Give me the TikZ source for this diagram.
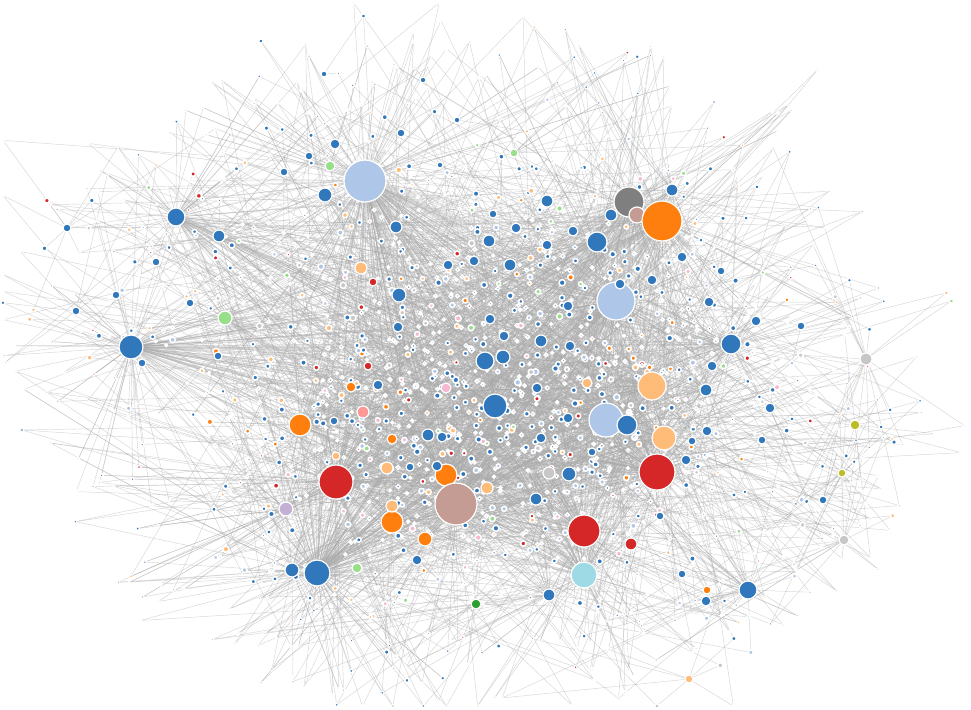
\documentclass[tikz,border=0pt]{standalone}
\definecolor{cb}{RGB}{49,119,187}
\definecolor{clb}{RGB}{174,199,232}
\definecolor{cor}{RGB}{255,127,14}
\definecolor{clo}{RGB}{255,187,120}
\definecolor{cre}{RGB}{214,39,40}
\definecolor{clr}{RGB}{255,152,150}
\definecolor{cgr}{RGB}{44,160,44}
\definecolor{clg}{RGB}{152,223,138}
\definecolor{cbr}{RGB}{196,156,148}
\definecolor{cgy}{RGB}{127,127,127}
\definecolor{clgy}{RGB}{199,199,199}
\definecolor{col}{RGB}{188,189,34}
\definecolor{clol}{RGB}{219,219,141}
\definecolor{cpu}{RGB}{197,176,213}
\definecolor{cpk}{RGB}{247,182,210}
\definecolor{ccy}{RGB}{158,218,229}
\colorlet{pal0}{cb}\colorlet{pal1}{cb}\colorlet{pal2}{cb}\colorlet{pal3}{cb}
\colorlet{pal4}{cb}\colorlet{pal5}{cb}\colorlet{pal6}{cb}\colorlet{pal7}{cb}
\colorlet{pal8}{cb}\colorlet{pal9}{clb}\colorlet{pal10}{clb}\colorlet{pal11}{clo}
\colorlet{pal12}{clo}\colorlet{pal13}{clg}\colorlet{pal14}{cor}\colorlet{pal15}{cre}
\colorlet{pal16}{clb}\colorlet{pal17}{cpk}\colorlet{pal18}{clgy}\colorlet{pal19}{cb}
\tikzset{
  vtx/.style={circle,inner sep=0pt,draw=white,line width=1.2pt},
  dot/.style={circle,inner sep=0pt,draw=white,line width=1.5pt},
  lnk/.style={draw=black!33,line width=0.45pt,opacity=0.48},
}
\def\hublist{365/181/21/clb/50/200, 616/301/19/clb/40/190, 606/420/17/clb/30/180,
584/575/13/ccy/22/140, 629/202/15/cgy/22/170, 637/215/8/cbr/8/120, 662/221/20/cor/35/190,
300/425/11/cor/18/140, 446/475/11/cor/14/120, 392/522/11/cor/14/120, 425/539/7/cor/8/100,
652/386/14/clo/16/140, 664/438/12/clo/14/140, 336/482/17/cre/30/190, 657/472/18/cre/28/190,
584/531/16/cre/22/170, 456/504/21/cbr/35/210, 131/347/12/cb/35/150, 317/573/13/cb/35/170,
495/406/12/cb/22/150, 176/217/9/cb/18/140, 731/344/10/cb/18/140, 748/590/9/cb/14/120,
597/242/10/cb/14/120, 627/425/10/cb/10/110, 485/361/9/cb/10/110, 503/357/7/cb/6/100,
292/570/7/cb/6/100, 325/195/7/cb/8/100, 219/236/6/cb/6/100, 399/295/7/cb/8/100,
396/227/6/cb/6/100, 569/474/7/cb/6/100, 549/595/6/cb/5/100, 536/499/6/cb/5/100,
541/341/6/cb/5/100, 672/190/6/cb/5/100, 706/390/6/cb/5/100, 709/302/5/cb/4/100,
770/408/5/cb/4/100, 225/318/7/clg/12/120, 866/359/6/clgy/12/110, 855/425/5/col/12/110,
842/473/4/col/10/110, 844/540/5/clgy/10/110, 286/509/7/cpu/10/120, 476/604/5/cgr/8/100,
549/473/6/clgy/5/90, 446/388/5/cpk/4/80, 363/412/6/clr/4/80, 361/268/6/clo/4/80,
387/468/6/clo/4/80, 487/488/6/clo/4/80, 392/506/6/clo/4/80, 587/383/5/clo/4/80,
689/679/4/clo/6/100, 631/544/6/cre/4/80, 373/282/4/cre/2/80, 368/366/4/cre/2/80,
514/153/4/clg/4/100, 330/166/5/clg/4/80, 357/568/5/clg/4/80, 67/228/4/cb/8/110,
76/311/4/cb/6/100, 823/500/4/cb/5/100, 351/387/5/cor/3/80, 392/439/5/cor/3/80,
474/261/5/cb/2/80, 448/265/5/cb/2/80, 510/265/6/cb/2/80, 489/241/6/cb/2/80,
516/228/5/cb/2/80, 547/201/6/cb/2/80, 547/245/5/cb/2/80, 568/306/5/cb/2/80,
570/346/5/cb/2/80, 504/336/5/cb/2/80, 490/319/5/cb/2/80, 537/388/5/cb/2/80,
541/438/5/cb/2/80, 568/418/5/cb/2/80, 592/452/4/cb/2/80, 686/460/5/cb/2/80,
692/441/4/cb/2/80, 707/431/5/cb/2/80, 712/366/5/cb/2/80, 756/321/5/cb/2/80,
762/440/4/cb/2/80, 801/326/4/cb/2/80, 706/601/5/cb/2/80, 682/574/4/cb/2/80,
660/516/4/cb/2/80, 437/466/5/cb/2/80, 428/435/6/cb/2/80, 442/437/5/cb/2/80,
410/467/4/cb/2/80, 378/385/5/cb/2/80, 334/421/4/cb/2/80, 190/303/4/cb/2/80,
156/262/4/cb/2/80, 142/363/4/cb/2/80, 116/295/4/cb/2/80, 284/172/4/cb/2/80,
309/156/4/cb/2/80, 335/144/5/cb/2/80, 401/133/4/cb/2/80, 423/80/3/cb/2/80,
324/74/3/cb/2/80, 457/120/3/cb/2/80, 440/165/3/cb/2/80, 493/214/4/cb/2/80,
573/231/5/cb/2/80, 611/215/6/cb/2/80, 620/284/5/cb/2/80, 652/280/5/cb/2/80,
682/257/5/cb/2/80, 721/271/4/cb/2/80, 218/356/4/cb/2/80, 398/327/5/cb/2/80,
417/560/5/cb/2/80, 707/590/4/cor/2/80, 336/456/4/clo/2/80}
\def\hubw{{1,1,1,1,1,1,1,1,2,2,2,2,2,2,3,3,3,3,3,17,17,17,17,17,17,14,14,14,14,14,
15,15,15,15,15,16,16,16,16,7,7,7,7,7,5,5,5,5,18,18,18,18,19,19,19,19,19,20,20,20,20,
12,12,12,13,13,13,8,8,8,9,9,9,10,10,10,4,4,4,24,24,25,26,22,22,21,21,31,29,33,41,46,
23,6,11,27,28,30,32,34,35,36,37,38}}
\def\seczero{{42,43,44,45,22,15,13,12,3,40,65,38,2,42,43}}
\def\secone{{23,16,4,15,45,56,57,23,23,4,15,44}}
\def\sectwo{{19,17,10,11,47,34,4,28,62,19,19,17}}
\def\secthree{{18,46,8,14,19,28,18,18,14}}
\def\secfour{{18,63,64,21,41,30,1,18,18,21}}
\def\secfive{{1,21,29,30,32,63,61,1,1,1,21}}
\def\secsix{{1,5,7,24,60,37,2,1,7,5}}
\def\secseven{{7,5,2,22,39,42,37,7,22}}
% #1 = 0 : coordinates and edges ; #1 = 1 : small nodes
\newcommand\buildnet[1]{%
  \foreach \x/\y/\r/\c/\n/\s [count=\i] in \hublist {
    \foreach \k in {1,...,\n}{
      \pgfmathsetmacro\ang{rnd*360}
      \pgfmathsetmacro\uu{rnd}
      \pgfmathsetmacro\dd{\r+8+\s*\uu}
      \pgfmathsetmacro\sx{max(3,min(968,\x+\dd*cos(\ang)))}
      \pgfmathsetmacro\sy{max(3,min(706,\y+\dd*sin(\ang)))}
      \pgfmathtruncatemacro\ci{random(0,19)}
      \pgfmathsetmacro\sr{1.2+1.8*rnd*(1-0.6*\uu)}
      \pgfmathtruncatemacro\hb{\hubw[random(0,\hubn-1)]}
      \ifnum#1=0
        \coordinate (s\i-\k) at (\sx,\sy);
        \draw[lnk] (hc\i) -- (s\i-\k);
        \draw[lnk] (hc\hb) -- (s\i-\k);
      \else
        \node[dot,fill=pal\ci,minimum size=2*\sr pt] (vs\i-\k) at (s\i-\k) {};
      \fi
    }
  }
  \foreach \k in {1,...,440}{
    \pgfmathsetmacro\sx{490+160*(rand+rand)}
    \pgfmathsetmacro\sy{380+115*(rand+rand)}
    \pgfmathtruncatemacro\ci{random(0,19)}
    \pgfmathsetmacro\sr{1.5+1.6*rnd}
    \pgfmathtruncatemacro\ha{\hubw[random(0,\hubn-1)]}
    \pgfmathtruncatemacro\hb{\hubw[random(0,\hubn-1)]}
    \pgfmathtruncatemacro\hc{\hubw[random(0,\hubn-1)]}
    \ifnum#1=0
      \coordinate (c\k) at (\sx,\sy);
      \draw[lnk] (hc\ha) -- (c\k);
      \draw[lnk] (hc\hb) -- (c\k);
      \draw[lnk] (hc\hc) -- (c\k);
    \else
      \node[dot,fill=pal\ci,minimum size=2*\sr pt] (vc\k) at (c\k) {};
    \fi
  }
  \foreach \k in {1,...,170}{
    \pgfmathsetmacro\ang{rnd*359.9}
    \pgfmathsetmacro\rf{0.8+0.26*rnd}
    \pgfmathsetmacro\sx{max(3,min(968,480+440*\rf*cos(\ang)))}
    \pgfmathsetmacro\sy{max(3,min(706,370+335*\rf*sin(\ang)))}
    \pgfmathtruncatemacro\sec{\ang/45}
    \ifcase\sec \let\cursec\seczero\or\let\cursec\secone\or\let\cursec\sectwo\or
      \let\cursec\secthree\or\let\cursec\secfour\or\let\cursec\secfive\or
      \let\cursec\secsix\else\let\cursec\secseven\fi
    \pgfmathtruncatemacro\secn{dim(\cursec)}
    \pgfmathtruncatemacro\ci{random(0,19)}
    \pgfmathsetmacro\sr{1.1+0.8*rnd}
    \pgfmathtruncatemacro\ha{\cursec[random(0,\secn-1)]}
    \pgfmathtruncatemacro\hb{\cursec[random(0,\secn-1)]}
    \pgfmathtruncatemacro\hc{\hubw[random(0,\hubn-1)]}
    \ifnum#1=0
      \coordinate (p\k) at (\sx,\sy);
      \draw[lnk] (hc\ha) -- (p\k);
      \draw[lnk] (hc\hb) -- (p\k);
      \draw[lnk] (hc\hc) -- (p\k);
    \else
      \node[dot,fill=pal\ci,minimum size=2*\sr pt,line width=1pt] (vp\k) at (p\k) {};
    \fi
  }%
}
\begin{document}
\begin{tikzpicture}[x=1pt,y=-1pt]
\useasboundingbox (0,0) rectangle (971,709);
\fill[white] (0,0) rectangle (971,709);
\pgfmathtruncatemacro\hubn{dim(\hubw)}
\foreach \x/\y/\r/\c/\n/\s [count=\i] in \hublist {
  \coordinate (hc\i) at (\x,\y);
}
\pgfmathsetseed{4242}
\buildnet{0}
\pgfmathsetseed{4242}
\buildnet{1}
\foreach \x/\y/\r/\c/\n/\s [count=\i] in \hublist {
  \node[vtx,fill=\c,minimum size=2*\r pt] (h\i) at (hc\i) {};
}
\end{tikzpicture}
\end{document}
